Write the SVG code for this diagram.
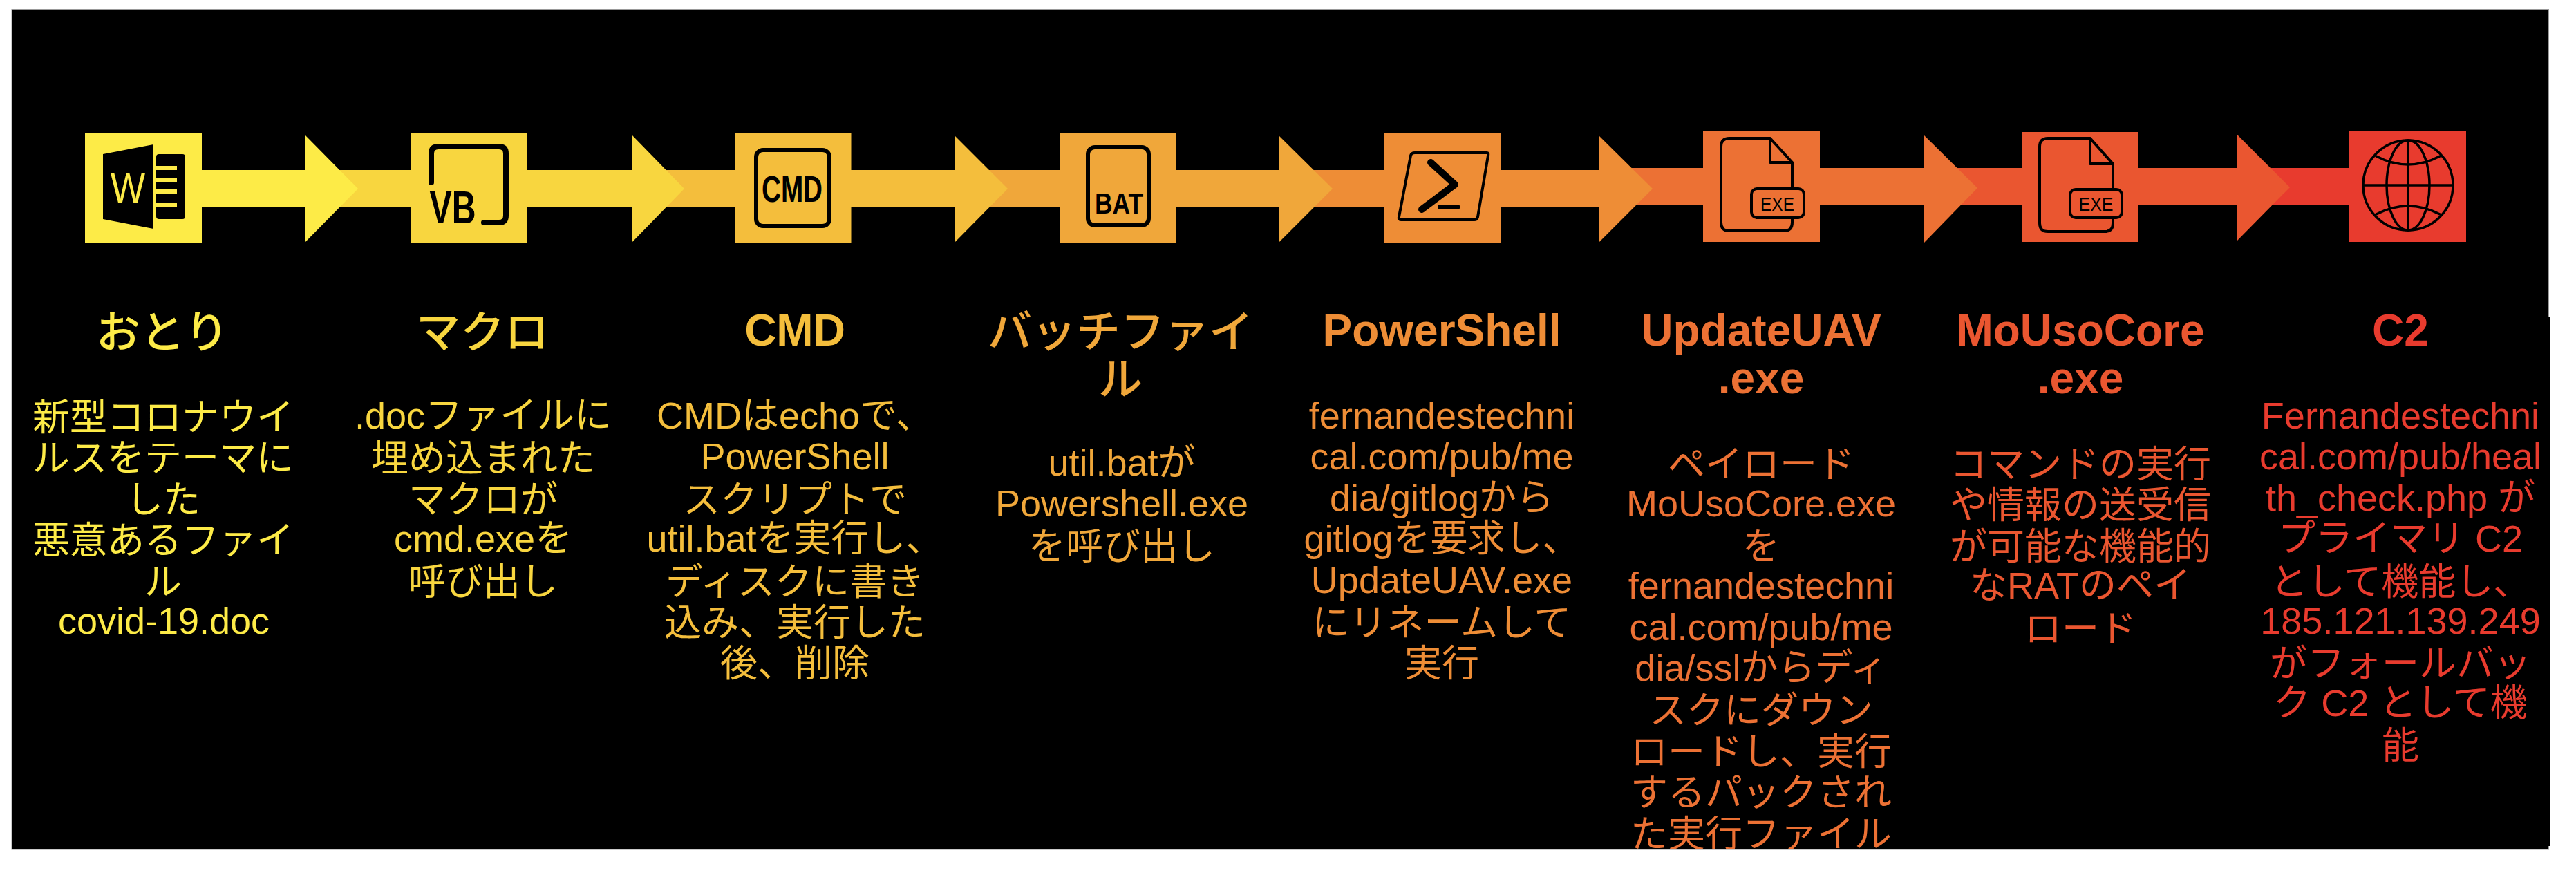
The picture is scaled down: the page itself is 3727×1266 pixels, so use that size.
<svg xmlns="http://www.w3.org/2000/svg" width="3727" height="1266" viewBox="0 0 3727 1266">
<style>
text{font-family:"Liberation Sans","Noto Sans CJK JP",sans-serif;text-anchor:middle}
.t{font-size:64px;font-weight:bold}
.m{font-size:64px;font-weight:500}
.b{font-size:54px}
.c1{fill:#FDEB47}.c2{fill:#F8D63F}.c3{fill:#F4BE3C}.c4{fill:#F0A73A}.c5{fill:#EE8D36}.c6{fill:#EC7134}.c7{fill:#EA5630}.c8{fill:#E83B2E}
.k{fill:none;stroke:#000;stroke-linecap:round;stroke-linejoin:round}
.i{fill:#000;font-weight:bold}
</style>
<defs><clipPath id="pane"><rect x="17" y="13" width="3673" height="1216"/></clipPath></defs>
<rect width="3727" height="1266" fill="#fff"/>
<rect x="17" y="13.500" width="3670.500" height="1215.500" fill="#000" stroke="#999" stroke-width="1"/>
<rect x="3680" y="459" width="10" height="765" fill="#000"/>
<g id="connectors">
<rect class="c2" x="480" y="246" width="120" height="53"/>
<rect class="c3" x="950" y="246" width="120" height="53"/>
<rect class="c4" x="1420" y="246" width="120" height="53"/>
<rect class="c5" x="1890" y="246" width="120" height="53"/>
<rect class="c6" x="2350" y="243" width="120" height="53"/>
<rect class="c7" x="2825" y="243" width="105" height="53"/>
<rect class="c8" x="3275" y="243" width="130" height="53"/>
<path class="c1" d="M285,246H441V195L518,273L441,351V299H285Z"/>
<path class="c2" d="M755,246H914V195L990,273L914,351V299H755Z"/>
<path class="c3" d="M1225,246H1381V196L1458,273L1381,351V299H1225Z"/>
<path class="c4" d="M1695,246H1850V196L1928,273L1850,351V299H1695Z"/>
<path class="c5" d="M2165,246H2313V196L2391,273L2313,351V299H2165Z"/>
<path class="c6" d="M2625,243H2784V196L2861,272L2784,351V296H2625Z"/>
<path class="c7" d="M3085,243H3237V195L3313,271L3237,348V296H3085Z"/>
</g>
<g id="node-1">
<rect class="c1" x="123" y="192" width="169" height="159"/>
<path d="M149,223L222,209V331L149,317Z" fill="#000"/>
<rect x="226" y="223" width="42" height="94" rx="4" fill="#000"/>
<rect class="c1" x="226" y="240" width="30" height="6"/><rect class="c1" x="226" y="257" width="30" height="6"/><rect class="c1" x="226" y="274" width="30" height="6"/><rect class="c1" x="226" y="293" width="30" height="6"/>
<text class="c1" x="185" y="293" font-size="62" textLength="50" lengthAdjust="spacingAndGlyphs">W</text>
<text class="m c1" x="235" y="503">おとり</text>
<text class="b c1"><tspan x="236" y="623">新型コロナウイ</tspan><tspan x="236" y="682">ルスをテーマに</tspan><tspan x="236" y="742">した</tspan><tspan x="236" y="801">悪意あるファイ</tspan><tspan x="236" y="861">ル</tspan><tspan x="237" y="917">covid-19.doc</tspan></text>
</g>
<g id="node-2">
<rect class="c2" x="594" y="192" width="168" height="159"/>
<path class="k" stroke-width="8" d="M624,264V222Q624,212 634,212H722Q732,212 732,222V312Q732,322 722,322H700"/>
<text class="i" x="655" y="323" font-size="66" textLength="67" lengthAdjust="spacingAndGlyphs">VB</text>
<text class="m c2" x="698" y="503">マクロ</text>
<text class="b c2"><tspan x="699" y="620">.docファイルに</tspan><tspan x="699" y="682">埋め込まれた</tspan><tspan x="699" y="742">マクロが</tspan><tspan x="699" y="798">cmd.exeを</tspan><tspan x="699" y="861">呼び出し</tspan></text>
</g>
<g id="node-3">
<rect class="c3" x="1063" y="192" width="168.500" height="159"/>
<rect class="k" x="1094" y="217" width="106" height="110" rx="10" stroke-width="6"/>
<text class="i" x="1146" y="292" font-size="53" textLength="88" lengthAdjust="spacingAndGlyphs">CMD</text>
<text class="t c3" x="1150" y="500">CMD</text>
<text class="b c3"><tspan x="1150" y="620">CMDはechoで、</tspan><tspan x="1150" y="679">PowerShell</tspan><tspan x="1150" y="742">スクリプトで</tspan><tspan x="1150" y="798">util.batを実行し、</tspan><tspan x="1150" y="861">ディスクに書き</tspan><tspan x="1150" y="920">込み、実行した</tspan><tspan x="1150" y="979">後、削除</tspan></text>
</g>
<g id="node-4">
<rect class="c4" x="1533" y="192" width="168" height="159"/>
<rect class="k" x="1574" y="213" width="88" height="113" rx="10" stroke-width="6"/>
<text class="i" x="1619" y="309" font-size="42" textLength="70" lengthAdjust="spacingAndGlyphs">BAT</text>
<text class="m c4"><tspan x="1621" y="502">バッチファイ</tspan><tspan x="1621" y="571">ル</tspan></text>
<text class="b c4"><tspan x="1623" y="688">util.batが</tspan><tspan x="1623" y="747">Powershell.exe</tspan><tspan x="1623" y="810">を呼び出し</tspan></text>
</g>
<g id="node-5">
<rect class="c5" x="2003" y="192" width="168.500" height="159"/>
<path class="k" stroke-width="4" d="M2047,221H2151Q2154,221 2153,225L2138,314Q2137,318 2133,318H2027Q2023,318 2024,314L2041,225Q2042,221 2047,221Z"/>
<path class="k" stroke-width="10" d="M2070,235L2105,267L2057,303"/>
<rect x="2080" y="296" width="32" height="7" rx="2" fill="#000"/>
<text class="t c5" x="2086" y="500">PowerShell</text>
<text class="b c5"><tspan x="2086" y="620">fernandestechni</tspan><tspan x="2086" y="679">cal.com/pub/me</tspan><tspan x="2086" y="739">dia/gitlogから</tspan><tspan x="2086" y="798">gitlogを要求し、</tspan><tspan x="2086" y="858">UpdateUAV.exe</tspan><tspan x="2086" y="920">にリネームして</tspan><tspan x="2086" y="979">実行</tspan></text>
</g>
<g id="node-6">
<rect class="c6" x="2464" y="189" width="169" height="161"/>
<path class="k" stroke-width="4" d="M2561,200H2502Q2490,200 2490,212V322Q2490,334 2502,334H2581Q2593,334 2593,322V235L2561,200V235H2593"/>
<rect class="c6" x="2534" y="273" width="76" height="42" rx="8" stroke="#000" stroke-width="4"/>
<text x="2571.500" y="305" font-size="28" style="fill:#000" textLength="49" lengthAdjust="spacingAndGlyphs">EXE</text>
<text class="t c6"><tspan x="2548" y="500">UpdateUAV</tspan><tspan x="2548" y="569">.exe</tspan></text>
<text class="b c6" clip-path="url(#pane)"><tspan x="2548" y="691">ペイロード</tspan><tspan x="2548" y="747">MoUsoCore.exe</tspan><tspan x="2548" y="810">を</tspan><tspan x="2548" y="866">fernandestechni</tspan><tspan x="2548" y="926">cal.com/pub/me</tspan><tspan x="2548" y="985">dia/sslからディ</tspan><tspan x="2548" y="1047">スクにダウン</tspan><tspan x="2548" y="1107">ロードし、実行</tspan><tspan x="2548" y="1166">するパックされ</tspan><tspan x="2548" y="1226">た実行ファイル</tspan></text>
</g>
<g id="node-7">
<rect class="c7" x="2925" y="191" width="169" height="159"/>
<path class="k" stroke-width="4" d="M3024,200H2963Q2951,200 2951,212V323Q2951,335 2963,335H3045Q3057,335 3057,323V237L3024,200V237H3057"/>
<rect class="c7" x="2995" y="274" width="75" height="41" rx="8" stroke="#000" stroke-width="4"/>
<text x="3032.500" y="305" font-size="28" style="fill:#000" textLength="50" lengthAdjust="spacingAndGlyphs">EXE</text>
<text class="t c7"><tspan x="3010" y="500">MoUsoCore</tspan><tspan x="3010" y="569">.exe</tspan></text>
<text class="b c7"><tspan x="3010" y="691">コマンドの実行</tspan><tspan x="3010" y="750">や情報の送受信</tspan><tspan x="3010" y="810">が可能な機能的</tspan><tspan x="3010" y="866">なRATのペイ</tspan><tspan x="3010" y="929">ロード</tspan></text>
</g>
<g id="node-8">
<rect class="c8" x="3399" y="189" width="169" height="161"/>
<g class="k" stroke-width="3.500">
<circle cx="3484" cy="268" r="65"/>
<ellipse cx="3484" cy="268" rx="31" ry="65"/>
<path d="M3419,268H3549M3484,203V333M3438,226Q3484,250 3530,226M3438,310Q3484,286 3530,310"/>
</g>
<text class="t c8" x="3473" y="500">C2</text>
<text class="b c8"><tspan x="3473" y="620">Fernandestechni</tspan><tspan x="3473" y="679">cal.com/pub/heal</tspan><tspan x="3473" y="739">th_check.php が</tspan><tspan x="3473" y="798">プライマリ C2</tspan><tspan x="3473" y="861">として機能し、</tspan><tspan x="3473" y="917">185.121.139.249</tspan><tspan x="3473" y="979">がフォールバッ</tspan><tspan x="3473" y="1036">ク C2 として機</tspan><tspan x="3473" y="1098">能</tspan></text>
</g>
</svg>
